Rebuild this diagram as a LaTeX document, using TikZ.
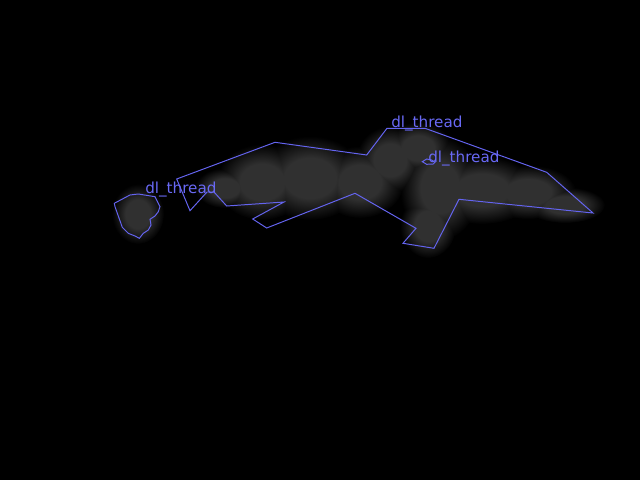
\documentclass[tikz,border=0pt]{standalone}
\usepackage{fontspec}
\newfontfamily\threadfont{DejaVu Sans}
\usepackage{tikz}
\definecolor{contour}{RGB}{100,100,240}
\definecolor{labelblue}{RGB}{105,105,245}
\definecolor{smudge}{RGB}{48,48,48}
\pgfdeclareradialshading{plateau}{\pgfpoint{0bp}{0bp}}{color(0bp)=(smudge); color(12bp)=(smudge); color(25bp)=(black); color(50bp)=(black)}
\tikzset{
  outline/.style = {draw=contour, line width=0.7pt, line join=miter},
  threadlabel/.style = {text=labelblue, font=\threadfont\fontsize{10.8}{12}\selectfont, inner sep=0pt, anchor=base west},
  cloud/.style = {shading=plateau}
}

\begin{document}
\begin{tikzpicture}[x=0.025cm, y=-0.025cm]
\fill[black] (0,0) rectangle (640,480);
\useasboundingbox (0,0) rectangle (640,480);
\begin{scope}[blend group=lighten]
\shade[cloud] (138,214) ellipse [x radius=26, y radius=30];
\shade[cloud] (225,188) ellipse [x radius=30, y radius=20];
\shade[cloud] (262,182) ellipse [x radius=46, y radius=38];
\shade[cloud] (310,178) ellipse [x radius=54, y radius=42];
\shade[cloud] (360,182) ellipse [x radius=44, y radius=36];
\shade[cloud] (390,160) ellipse [x radius=34, y radius=34];
\shade[cloud] (418,148) ellipse [x radius=34, y radius=26];
\shade[cloud] (440,188) ellipse [x radius=40, y radius=52];
\shade[cloud] (428,226) ellipse [x radius=28, y radius=32];
\shade[cloud] (482,190) ellipse [x radius=56, y radius=34];
\shade[cloud] (528,192) ellipse [x radius=48, y radius=27];
\shade[cloud] (565,205) ellipse [x radius=40, y radius=18];
\end{scope}
\draw[outline] (176.7,179) -- (190,210.7) -- (207,192) -- (214,192) -- (226.7,206) -- (284,202) -- (252.7,219) -- (266.7,228) -- (355,193.3) -- (416,228.3) -- (403,243.3) -- (434,248.3) -- (459,199.3) -- (593,213) -- (546.7,172.3) -- (425,128.3) -- (387,128.3) -- (366.7,155) -- (275,142.3) -- cycle;
\draw[outline] (114.3,203.3) -- (130,195) -- (138.3,194) -- (155,196.7) -- (160,206.7) -- (158.3,211.7) -- (155,216) -- (150,219.3) -- (151,225) -- (148.3,230) -- (143.3,233.3) -- (139.3,238.3) -- (135,236) -- (128.3,233.3) -- (122.3,227.3) -- (115,206.7) -- cycle;
\draw[outline] (422.3,161.7) -- (426.7,159) -- (431.7,160) -- (435,162.3) -- (433.3,164) -- (426.7,164.3) -- cycle;
\node[threadlabel] (left) at (145,193) {dl\_thread};
\node[threadlabel] (top) at (391,128) {dl\_thread};
\node[threadlabel] (mid) at (428,162) {dl\_thread};
\end{tikzpicture}
\end{document}
